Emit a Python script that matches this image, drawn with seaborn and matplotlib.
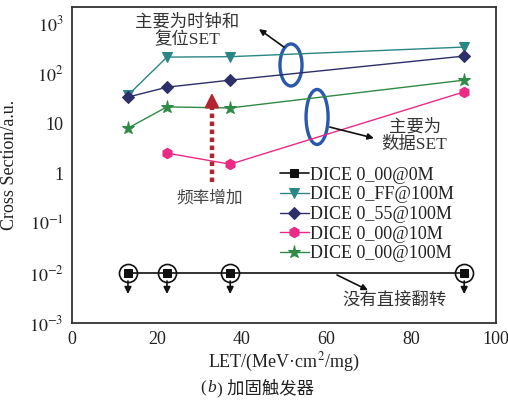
import matplotlib
matplotlib.use("Agg")
import matplotlib.pyplot as plt
import seaborn as sns
import numpy as np
import pandas as pd
from matplotlib.patches import Ellipse

# ---- data ----
let_all = [13.2, 22.4, 37.3, 92.5]
let_10m = [22.4, 37.3, 92.5]
dice_00_0m = [1e-2, 1e-2, 1e-2, 1e-2]
dice_ff_100m = [36, 208, 212, 330]
dice_55_100m = [33, 52, 72, 218]
dice_00_10m = [2.5, 1.5, 42]
dice_00_100m = [7.9, 21, 20, 72]

series_labels = ["DICE 0_00@0M", "DICE 0_FF@100M", "DICE 0_55@100M",
                 "DICE 0_00@10M", "DICE 0_00@100M"]
ytick_vals = [1e-3, 1e-2, 1e-1, 1, 10, 1e2, 1e3]
ytick_labels = ["$10^{-3}$", "$10^{-2}$", "$10^{-1}$", "1", "10", "$10^{2}$", "$10^{3}$"]
xtick_vals = [0, 20, 40, 60, 80, 100]

sns.set_theme(style="white")
plt.rcParams['font.family'] = ['Liberation Serif', 'Noto Sans CJK SC']
plt.rcParams['mathtext.fontset'] = 'stix'

fig = plt.figure(figsize=(5.08, 4.0), dpi=100)
ax = fig.add_axes([72/508, 1-323/400, (496-72)/508, (323-7)/400])

cols = {"ff": "#2b8585", "55": "#2c2f68", "10m": "#ea2a84", "100m": "#2f8a45", "0m": "#111111"}

styles = [
    (let_all, dice_00_0m, series_labels[0], cols["0m"], "s", 5.5, 1.2),
    (let_all, dice_ff_100m, series_labels[1], cols["ff"], "v", 7.5, 1.0),
    (let_all, dice_55_100m, series_labels[2], cols["55"], "D", 6.5, 1.0),
    (let_10m, dice_00_10m, series_labels[3], cols["10m"], "h", 7.5, 1.0),
    (let_all, dice_00_100m, series_labels[4], cols["100m"], "*", 9.5, 1.0),
]
for xs, ys, lab, c, m, ms, lw in styles:
    df = pd.DataFrame({"LET": xs, "CS": ys})
    sns.lineplot(data=df, x="LET", y="CS", ax=ax, color=c, marker=m, markersize=ms,
                 markeredgecolor=c, linewidth=lw, label=lab)

# circles around the 0M points and downward arrows
ax.plot(let_all, dice_00_0m, linestyle="none", marker="o", markersize=13,
        markerfacecolor="none", markeredgecolor="#111111", markeredgewidth=1.2)
for xv, yv in zip(let_all, dice_00_0m):
    ax.annotate("", xy=(xv, yv * 10**-0.42), xytext=(xv, yv * 10**-0.16),
                arrowprops=dict(arrowstyle="-|>", color="#111111", lw=1.2,
                                mutation_scale=10, shrinkA=0, shrinkB=0))

ax.set_yscale("log")
ax.set_xlim(0, 100)
ax.set_ylim(1e-3, 10**3.32)
ax.set_yticks(ytick_vals)
ax.set_yticklabels(ytick_labels)
ax.set_xticks(xtick_vals)
ax.minorticks_off()
ax.tick_params(axis="both", direction="in", length=5, width=1.2, labelsize=13,
               colors="#222222", pad=6)
for sp in ax.spines.values():
    sp.set_color("#333333")
    sp.set_linewidth(1.3)
ax.set_xlabel("LET/(MeV·cm$^{2}$/mg)", fontsize=13, color="#222222", labelpad=2)
ax.set_ylabel("Cross Section/a.u.", fontsize=13, color="#222222", labelpad=8)

leg = ax.legend(loc="upper left", bbox_to_anchor=(0.49, 0.495), frameon=False,
                fontsize=13, handlelength=1.6, handletextpad=0.05,
                labelspacing=0.15, borderaxespad=0, borderpad=0)
for t in leg.get_texts():
    t.set_color("#222222")

tr = ax.transAxes
txtc = "#333333"
ax.text(0.271, 0.924, "主要为时钟和\n复位SET", transform=tr, ha="center", va="center",
        fontsize=12.5, color=txtc, linespacing=1.1)
ax.text(0.808, 0.592, "主要为\n数据SET", transform=tr, ha="center", va="center",
        fontsize=12.5, color=txtc, linespacing=1.1)
ax.text(0.325, 0.395, "频率增加", transform=tr, ha="center", va="center",
        fontsize=12, color="#444444", style="italic")
ax.text(0.76, 0.07, "没有直接翻转", transform=tr, ha="center", va="center",
        fontsize=12.5, color=txtc)

ecol = "#2a58ad"
ax.add_patch(Ellipse((0.5165, 0.8165), 0.052, 0.133, transform=tr, fill=False,
                     edgecolor=ecol, linewidth=2.4))
ax.add_patch(Ellipse((0.578, 0.652), 0.052, 0.174, transform=tr, fill=False,
                     edgecolor=ecol, linewidth=2.4))

arr = dict(arrowstyle="-|>", color="#111111", lw=1.2, mutation_scale=9, shrinkA=0, shrinkB=0)
ax.annotate("", xy=(0.441, 0.930), xytext=(0.5, 0.873), xycoords=tr, textcoords=tr, arrowprops=arr)
ax.annotate("", xy=(0.712, 0.585), xytext=(0.608, 0.620), xycoords=tr, textcoords=tr, arrowprops=arr)
ax.annotate("", xy=(0.698, 0.104), xytext=(0.625, 0.152), xycoords=tr, textcoords=tr, arrowprops=arr)

# red dotted arrow
rc = "#b3252f"
ax.plot([0.330, 0.330], [0.446, 0.70], transform=tr, color=rc, linewidth=3.2,
        linestyle=(0, (1, 0.8)))
ax.annotate("", xy=(0.330, 0.728), xytext=(0.330, 0.69), xycoords=tr, textcoords=tr,
            arrowprops=dict(arrowstyle="-|>", color=rc, lw=1.5, mutation_scale=22,
                            shrinkA=0, shrinkB=0))

# caption
fig.text(206/508, 1-388/400, "(", ha="right", va="center", fontsize=12.5, color="#222222")
fig.text(207/508, 1-388/400, "b", ha="left", va="center", fontsize=12.5, color="#222222",
         style="italic")
fig.text(217/508, 1-388/400, ") 加固触发器", ha="left", va="center", fontsize=12.5,
         color="#222222")

fig.savefig("out.png", dpi=100)
